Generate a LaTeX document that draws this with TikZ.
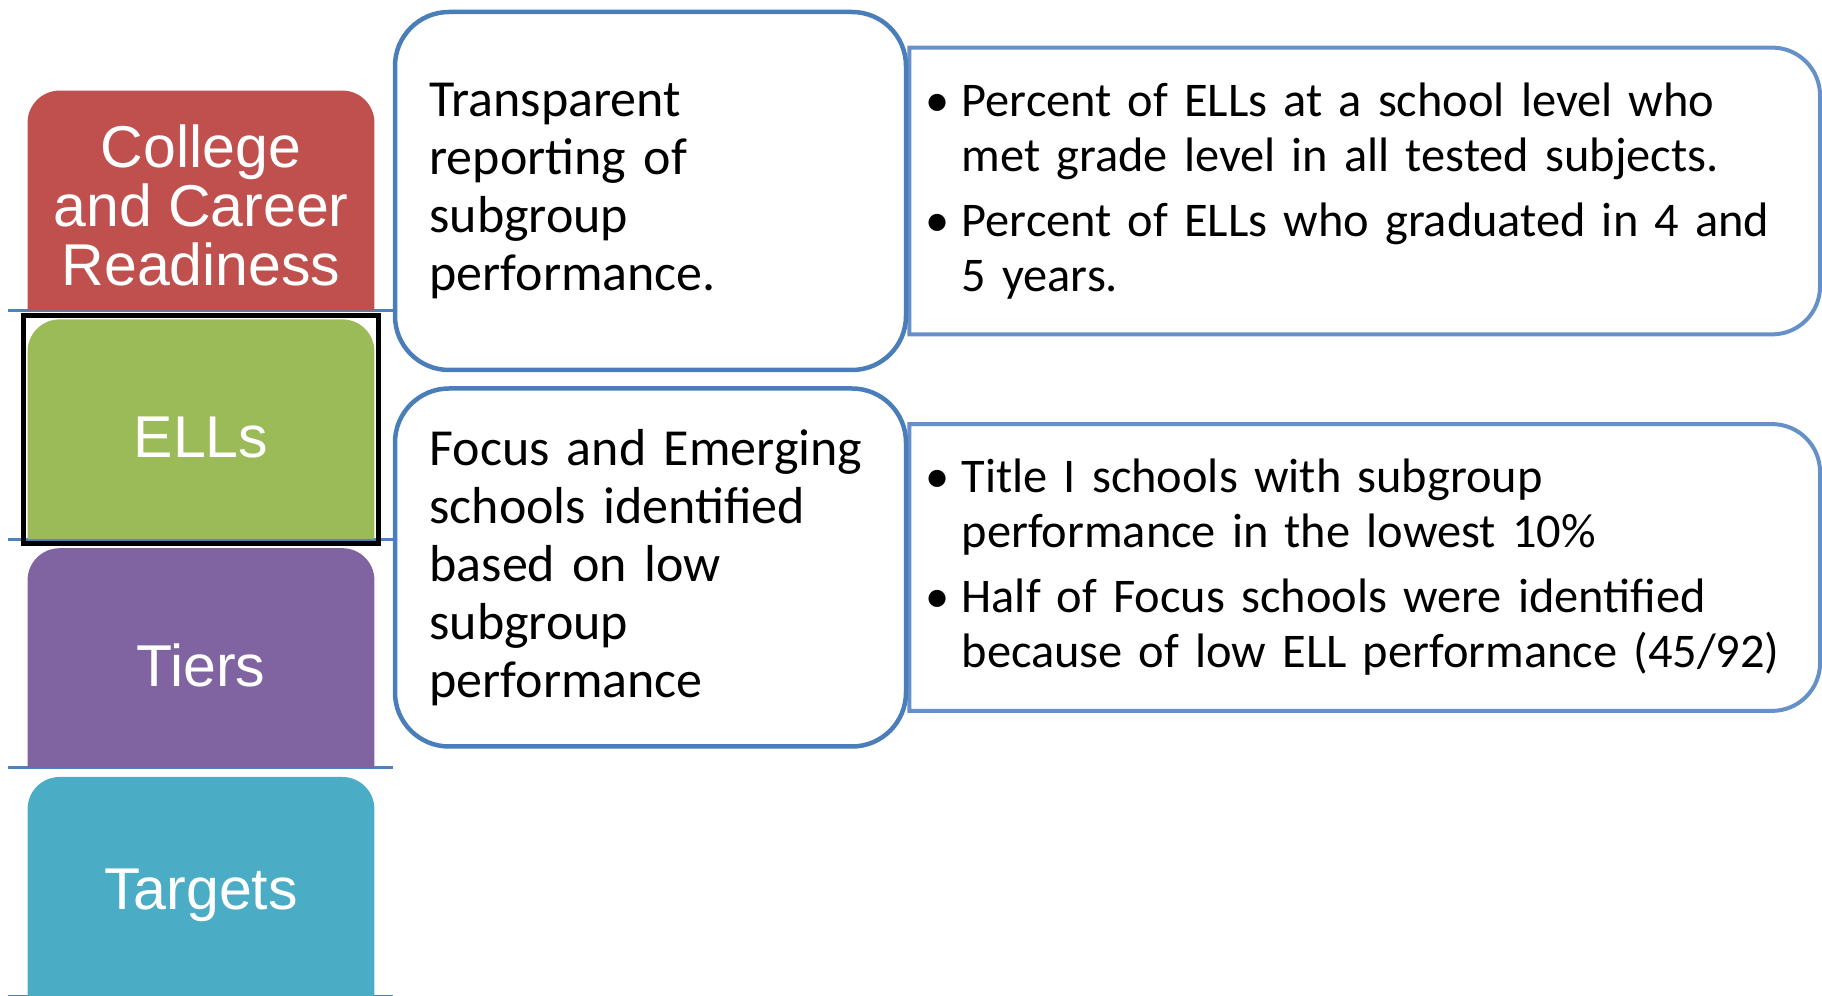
\documentclass[tikz,border=0pt]{standalone}
\usepackage{fontspec}
\setmainfont{Carlito}
\newfontfamily\tabfont{Liberation Sans}
\usetikzlibrary{positioning,fit}

\definecolor{ccrred}{HTML}{C0504D}
\definecolor{ellgreen}{HTML}{9BBB59}
\definecolor{tierpurple}{HTML}{8064A2}
\definecolor{targetteal}{HTML}{4BACC6}
\definecolor{lineblue}{HTML}{4F81BD}
\definecolor{boxblue}{HTML}{4A7EBB}
\definecolor{listblue}{HTML}{6690C8}

\pgfdeclarelayer{bg}
\pgfsetlayers{bg,main}

\newcommand{\listitem}[1]{\noindent\hangindent=18pt\hangafter=1\makebox[18pt][l]{\textbullet}#1\par}

\tikzset{
    tier/.style={minimum width=173pt, minimum height=109.5pt, inner sep=0pt, text height=28.3pt, align=center, text=white, font=\tabfont\fontsize{29.5}{29.5}\selectfont},
    midbox/.style={draw=boxblue, line width=2.25pt, fill=white, rounded corners=27pt, minimum width=255.5pt, minimum height=179pt, text width=221pt, inner xsep=17pt, align=left, font=\fontsize{26}{29}\selectfont},
    listbox/.style={minimum width=455pt, minimum height=143pt, text width=439pt, inner xsep=8pt, align=left, font=\fontsize{24.2}{27.5}\selectfont},
    listline/.style={draw=listblue, line width=2pt},
    tabline/.style={draw=lineblue, line width=1.5pt},
    selframe/.style={draw=black, line width=2.5pt, inner sep=2pt}
}

\begin{document}
\begin{tikzpicture}
    \useasboundingbox (0,0) rectangle (911pt,498pt);

    \node[tier, text height=85.5pt] (college) at (100.5pt,397.75pt) {College\\and Career\\Readiness};
    \node[tier, below=4.5pt of college] (ells) {ELLs};
    \node[tier, below=4.5pt of ells] (tiers) {Tiers};
    \node[tier, below=4.5pt of tiers] (targets) {Targets};
    \node[selframe, fit=(ells)] (sel) {};

    \node[midbox] (report) at (325.25pt,402.5pt) {Transparent\\reporting of\\subgroup\\performance.};
    \node[midbox, below=7pt of report] (focus) {Focus and Emerging\\schools identified\\based on low\\subgroup\\performance};

    \node[listbox, right=0.5pt of report] (reportlist) {%
        \listitem{Percent of ELLs at a school level who\newline met grade level in all tested subjects.}%
        \vspace{5pt}%
        \listitem{Percent of ELLs who graduated in 4 and\newline 5 years.}};
    \node[listbox, right=0.5pt of focus] (focuslist) {%
        \listitem{Title I schools with subgroup\newline performance in the lowest 10\%}%
        \vspace{5pt}%
        \listitem{Half of Focus schools were identified\newline because of low ELL performance (45/92)}};

    \begin{pgfonlayer}{bg}
        \foreach \t in {college,ells,tiers,targets}
            \draw[tabline] ([xshift=-10pt]\t.south west) -- (\t.south -| report.west);
        \foreach \t/\c in {college/ccrred,ells/ellgreen,tiers/tierpurple,targets/targetteal}
            \fill[\c] (\t.south west) [rounded corners=16pt] -- (\t.north west) -- (\t.north east) [sharp corners] -- (\t.south east) -- cycle;
        \foreach \t in {reportlist,focuslist}
            \draw[listline] (\t.north west) [rounded corners=24pt] -- (\t.north east) -- (\t.south east) [sharp corners] -- (\t.south west) -- cycle;
    \end{pgfonlayer}
\end{tikzpicture}
\end{document}
